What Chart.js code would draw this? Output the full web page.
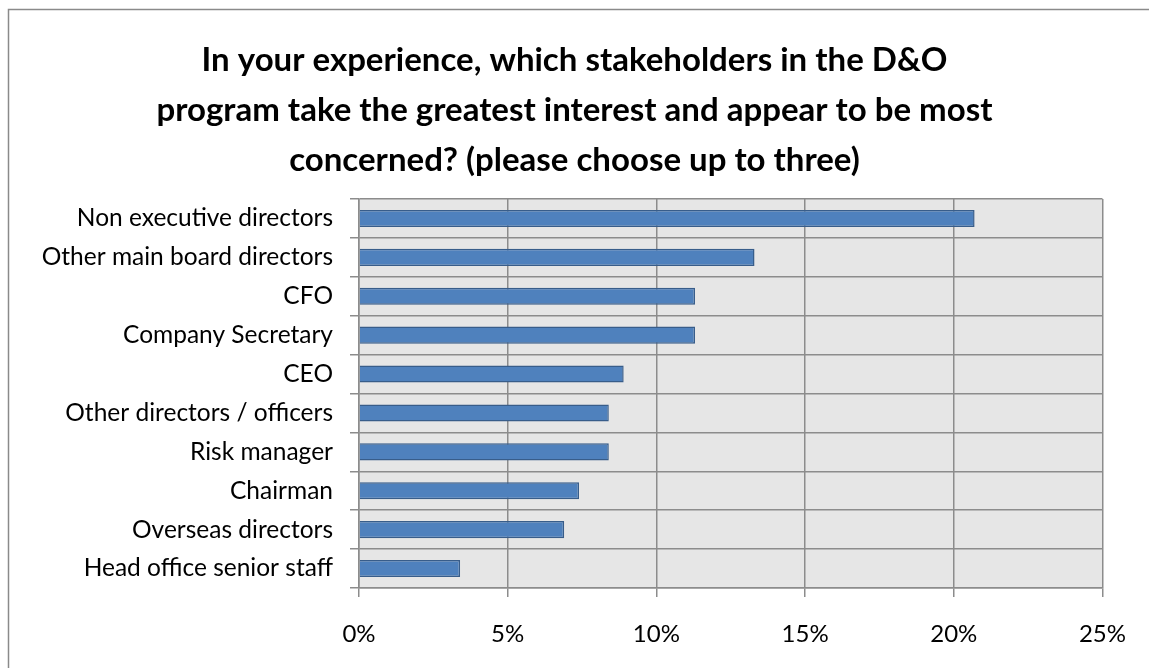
<!DOCTYPE html>
<html>
<head>
<meta charset="utf-8">
<title>D&amp;O stakeholders</title>
<script src="https://cdn.jsdelivr.net/npm/chart.js@4"></script>
<style>
  html, body { margin: 0; padding: 0; background: #ffffff; }
  #wrap { width: 1149px; height: 668px; position: relative; }
</style>
</head>
<body>
<div id="wrap"><canvas id="chart" width="1149" height="668"></canvas></div>
<script>
const titleLines = [
  "In your experience, which stakeholders in the D&O",
  "program take the greatest interest and appear to be most",
  "concerned? (please choose up to three)"
];

const stakeholders = [
  "Non executive directors",
  "Other main board directors",
  "CFO",
  "Company Secretary",
  "CEO",
  "Other directors / officers",
  "Risk manager",
  "Chairman",
  "Overseas directors",
  "Head office senior staff"
];

// share of respondents naming each stakeholder, in percent
const shares = [20.7, 13.3, 11.3, 11.3, 8.9, 8.4, 8.4, 7.4, 6.9, 3.4];

const axisMin = 0;
const axisMax = 25;
const axisStep = 5;

const FONT = "Lato, 'Open Sans', sans-serif";
const GRID = "#8c8c8c";

// white page, thin frame and grey plot area behind the grid
const backdrop = {
  id: "backdrop",
  beforeDraw(chart) {
    const { ctx, chartArea } = chart;
    ctx.save();
    ctx.fillStyle = "#ffffff";
    ctx.fillRect(0, 0, chart.width, chart.height);
    ctx.strokeStyle = "#8a8a8a";
    ctx.lineWidth = 1.5;
    ctx.strokeRect(8.5, 9.5, chart.width + 20, chart.height + 20);
    ctx.fillStyle = "#e6e6e6";
    ctx.fillRect(chartArea.left, chartArea.top, chartArea.right - chartArea.left, chartArea.bottom - chartArea.top);
    ctx.restore();
  }
};

// title centred on the whole canvas, not just the plot
const pageTitle = {
  id: "pageTitle",
  afterDraw(chart) {
    const { ctx } = chart;
    ctx.save();
    ctx.fillStyle = "#000000";
    ctx.font = "bold 33px " + FONT;
    ctx.textAlign = "center";
    ctx.textBaseline = "middle";
    titleLines.forEach((line, i) => {
      ctx.fillText(line, chart.width / 2, 60 + i * 50);
    });
    ctx.restore();
  }
};

new Chart(document.getElementById("chart").getContext("2d"), {
  type: "bar",
  data: {
    labels: stakeholders,
    datasets: [{
      data: shares,
      backgroundColor: "#4f81bd",
      borderColor: "#385d8a",
      borderWidth: 1.5,
      categoryPercentage: 1,
      barPercentage: 0.44
    }]
  },
  options: {
    indexAxis: "y",
    responsive: false,
    animation: false,
    devicePixelRatio: 1,
    layout: {
      padding: { left: 0, right: 42, top: 199, bottom: 0 }
    },
    plugins: {
      legend: { display: false },
      tooltip: { enabled: false },
      title: { display: false }
    },
    scales: {
      x: {
        min: axisMin,
        max: axisMax,
        ticks: {
          stepSize: axisStep,
          color: "#000000",
          padding: 23,
          font: { family: FONT, size: 24 },
          callback(value) {
            return value + "%";
          }
        },
        grid: {
          color: GRID,
          lineWidth: 1.5,
          tickLength: 9,
          drawTicks: true
        },
        border: { color: GRID, width: 1.5 },
        afterFit(scale) {
          scale.height = 80;
        }
      },
      y: {
        ticks: {
          color: "#000000",
          padding: 17,
          autoSkip: false,
          font: { family: FONT, size: 24.5 }
        },
        grid: {
          color: GRID,
          lineWidth: 1.5,
          tickLength: 9,
          offset: true
        },
        border: { color: GRID, width: 1.5 },
        afterFit(scale) {
          scale.width = 359;
        }
      }
    }
  },
  plugins: [backdrop, pageTitle]
});
</script>
</body>
</html>
